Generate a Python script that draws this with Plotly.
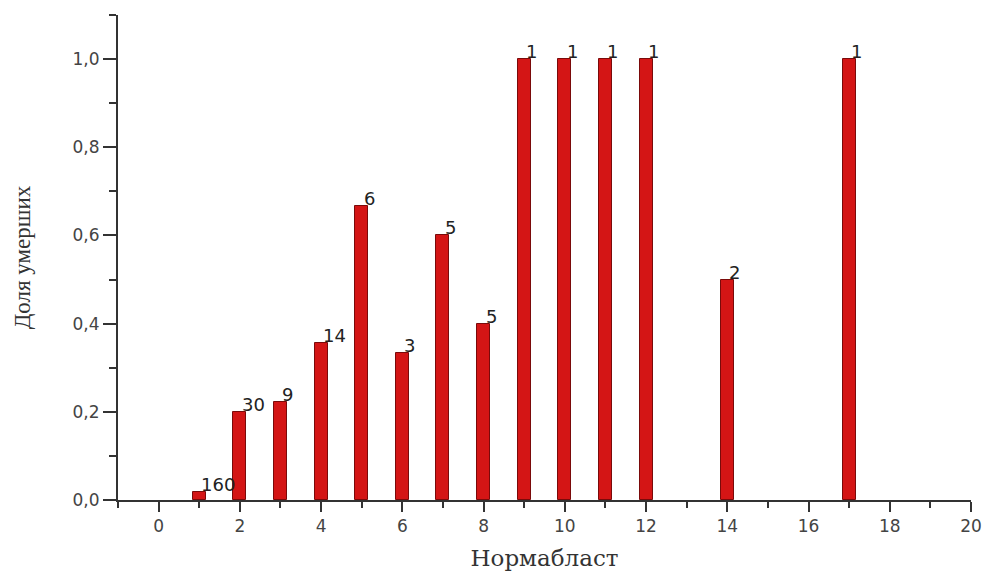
import plotly.graph_objects as go

# Data
normoblast = [1, 2, 3, 4, 5, 6, 7, 8, 9, 10, 11, 12, 14, 17]
share_dead = [0.019, 0.2, 0.222, 0.357, 0.667, 0.333, 0.6, 0.4, 1.0, 1.0, 1.0, 1.0, 0.5, 1.0]
counts = ["160", "30", "9", "14", "6", "3", "5", "5", "1", "1", "1", "1", "2", "1"]

x_ticks = list(range(0, 21, 2))
y_ticks = [0.0, 0.2, 0.4, 0.6, 0.8, 1.0]

fig = go.Figure()
fig.add_trace(go.Bar(
    x=normoblast,
    y=share_dead,
    width=0.32,
    marker=dict(color="#d41515", line=dict(color="#7a0a0a", width=1)),
    showlegend=False,
    hoverinfo="skip",
))

for xv, yv, t in zip(normoblast, share_dead, counts):
    fig.add_annotation(
        x=xv, y=yv, text=t, showarrow=False,
        xanchor="left", yanchor="bottom", xshift=0, yshift=-5,
        font=dict(family="DejaVu Sans", size=18, color="#222222"),
    )

axis_font = dict(family="DejaVu Sans", size=17, color="#444444")

fig.update_layout(
    width=988, height=573,
    margin=dict(l=118, r=17, t=15, b=73),
    paper_bgcolor="white", plot_bgcolor="white",
    separators=",.",
    xaxis=dict(
        range=[-1, 20], tickvals=x_ticks, ticks="outside", ticklen=10, tickwidth=2,
        tickcolor="#333333", showline=True, linecolor="#333333", linewidth=2,
        showgrid=False, zeroline=False, tickfont=axis_font, automargin=False,
        minor=dict(dtick=1, tick0=1, ticks="outside", ticklen=6, tickwidth=2, tickcolor="#333333", showgrid=False),
        title=dict(text="Нормабласт", font=dict(family="DejaVu Serif", size=23, color="#333333"), standoff=14),
    ),
    yaxis=dict(
        range=[0, 1.1], tickvals=y_ticks, tickformat=".1f", ticks="outside", ticklen=13, tickwidth=2,
        tickcolor="#333333", showline=True, linecolor="#333333", linewidth=2,
        showgrid=False, zeroline=False, tickfont=axis_font, automargin=False,
        minor=dict(dtick=0.1, tick0=0.1, ticks="outside", ticklen=7, tickwidth=2, tickcolor="#333333", showgrid=False),
        title=dict(text="Доля умерших", font=dict(family="Liberation Serif", size=23, color="#333333"), standoff=36),
    ),
    bargap=0,
)

fig.write_html("out.html", config={"displayModeBar": False}, post_script="document.body.style.margin='0';")
